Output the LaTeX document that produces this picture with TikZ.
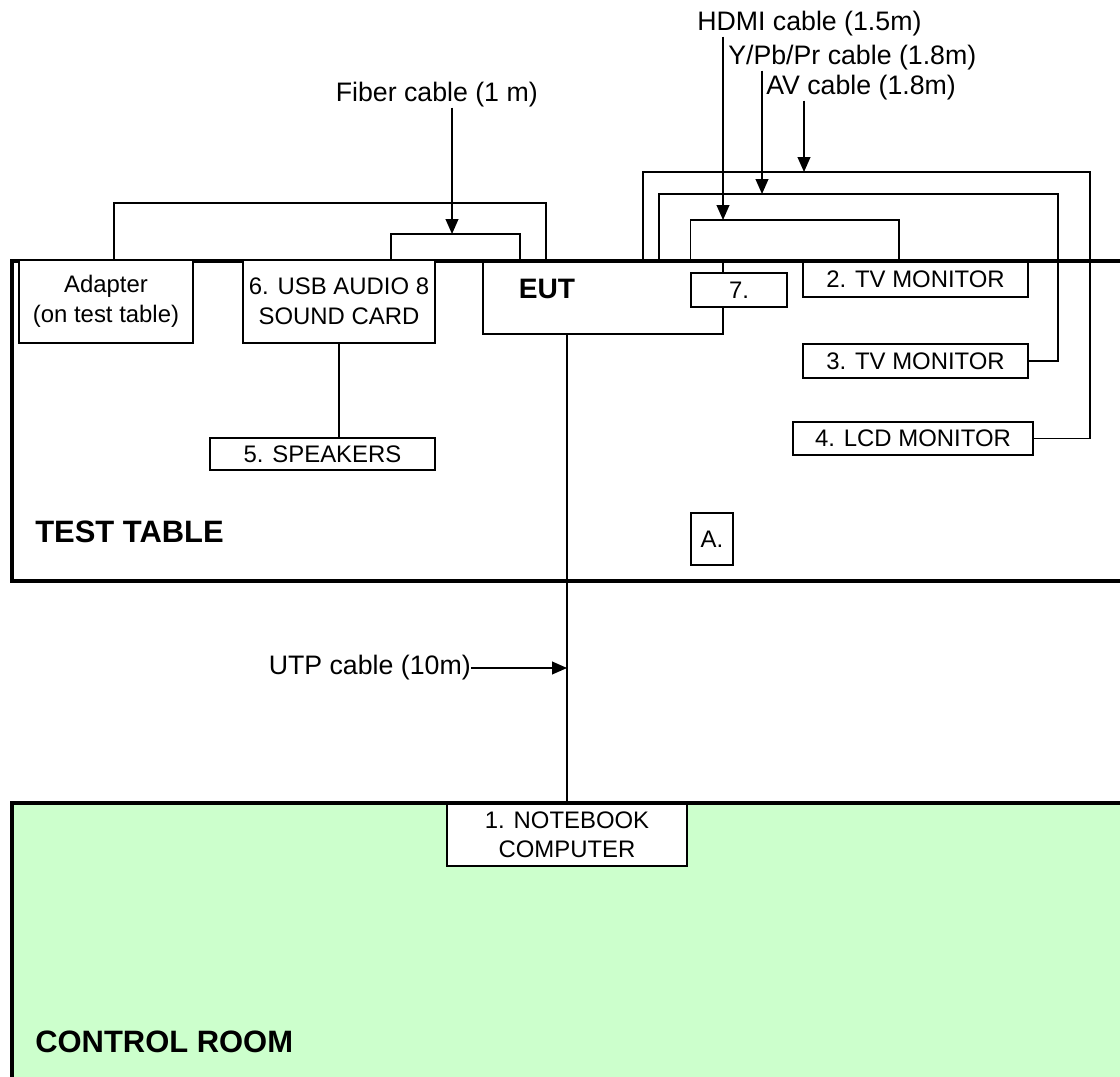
\documentclass[tikz,border=0pt]{standalone}
\usepackage{fontspec}
\setmainfont{Liberation Sans}
\usepackage{tikz}
\usetikzlibrary{arrows.meta, positioning, calc}
\definecolor{roomgreen}{RGB}{204,255,204}

\begin{document}
\begin{tikzpicture}[
    x=0.025cm, y=-0.025cm,
    dev/.style={rectangle, draw, line width=1pt, fill=white, inner sep=0pt, align=center, font=\fontsize{17}{21}\selectfont},
    wh/.style 2 args={minimum width=#1*0.025cm, minimum height=#2*0.025cm},
    cablelabel/.style={inner sep=0pt, font=\fontsize{19}{22}\selectfont},
    heading/.style={inner sep=0pt, anchor=west, font=\fontsize{22}{26}\selectfont\bfseries},
    cable/.style={line width=1pt},
    arrow/.style={-{Triangle[width=9pt,length=10.5pt]}, line width=1pt},
    wall/.style={line width=3.5pt},
]
\useasboundingbox (0,0) rectangle (1120,1077);
\clip (0,0) rectangle (1120,1077);

% Rooms
\fill[roomgreen] (12,803) rectangle (1130,1090);
\draw[wall] (1130,803) -- (12,803) -- (12,1090);
\draw[wall] (1130,261) -- (12,261) -- (12,581) -- (1130,581);

% Devices on the test table
\node[dev, wh={174}{83}] (adapter) at (106,301.5) {Adapter\\(on test table)};
\node[dev, wh={192}{83}] (usb) at (339,301.5) {6. USB AUDIO 8\\SOUND CARD};
\node[dev, wh={240}{72}] (eut) at (603,298) {};
\node[font=\fontsize{20}{24}\selectfont\bfseries] (eutlabel) at (547,289) {EUT};
\node[dev, wh={96}{34}] (box7) at (739,290) {7.};
\node[dev, wh={225}{35}] (tv2) at (915.5,279.5) {2. TV MONITOR};
\node[dev, wh={225}{34}] (tv3) at (915.5,361) {3. TV MONITOR};
\node[dev, wh={240}{33}] (lcd4) at (913,438.5) {4. LCD MONITOR};
\node[dev, wh={225}{32}] (speakers) at (322.5,454) {5. SPEAKERS};
\node[dev, wh={42}{52}] (boxA) at (712,539) {A.};

% Control room
\node[dev, wh={240}{62}] (notebook) at (567,835) {1. NOTEBOOK\\COMPUTER};

% Headings
\node[heading] (testtable) at (35,532) {TEST TABLE};
\node[heading] (controlroom) at (35,1042) {CONTROL ROOM};

% Cable labels
\node[cablelabel, anchor=east] (fiber) at (538,95) {Fiber cable (1 m)};
\node[cablelabel, anchor=west] (hdmi) at (697,24) {HDMI cable (1.5m)};
\node[cablelabel, anchor=west] (ypbpr) at (728,58) {Y/Pb/Pr cable (1.8m)};
\node[cablelabel, anchor=west] (av) at (766,88) {AV cable (1.8m)};
\node[cablelabel, anchor=east] (utp) at (471,668) {UTP cable (10m)};

% Cables
\draw[cable] (adapter.north -| 114,0) |- (546,203) -- (eut.north -| 546,0);
\draw[cable] (usb.north -| 391,0) |- (520,234) -- (eut.north -| 520,0);
\draw[cable] (eut.north -| box7.west) |- (899,220) -- (tv2.north -| 899,0);
\draw[cable] (eut.north -| 659,0) |- (1058,194) |- (tv3.east);
\draw[cable] (eut.north -| 643,0) |- (1090,172) |- (lcd4.east);
\draw[cable] (usb.south) -- (speakers.north -| usb.south);
\draw[cable] (eut.south -| notebook.north) -- (notebook.north);

% Cable arrows
\draw[arrow] (fiber.south -| 452,0) -- (452,234);
\draw[arrow] (hdmi.south -| 723,0) -- (723,220);
\draw[arrow] (ypbpr.south -| 762,0) -- (762,194);
\draw[arrow] (av.south -| 804,0) -- (804,172);
\draw[arrow] (utp.east) -- (utp.east -| notebook.north);

\end{tikzpicture}
\end{document}
